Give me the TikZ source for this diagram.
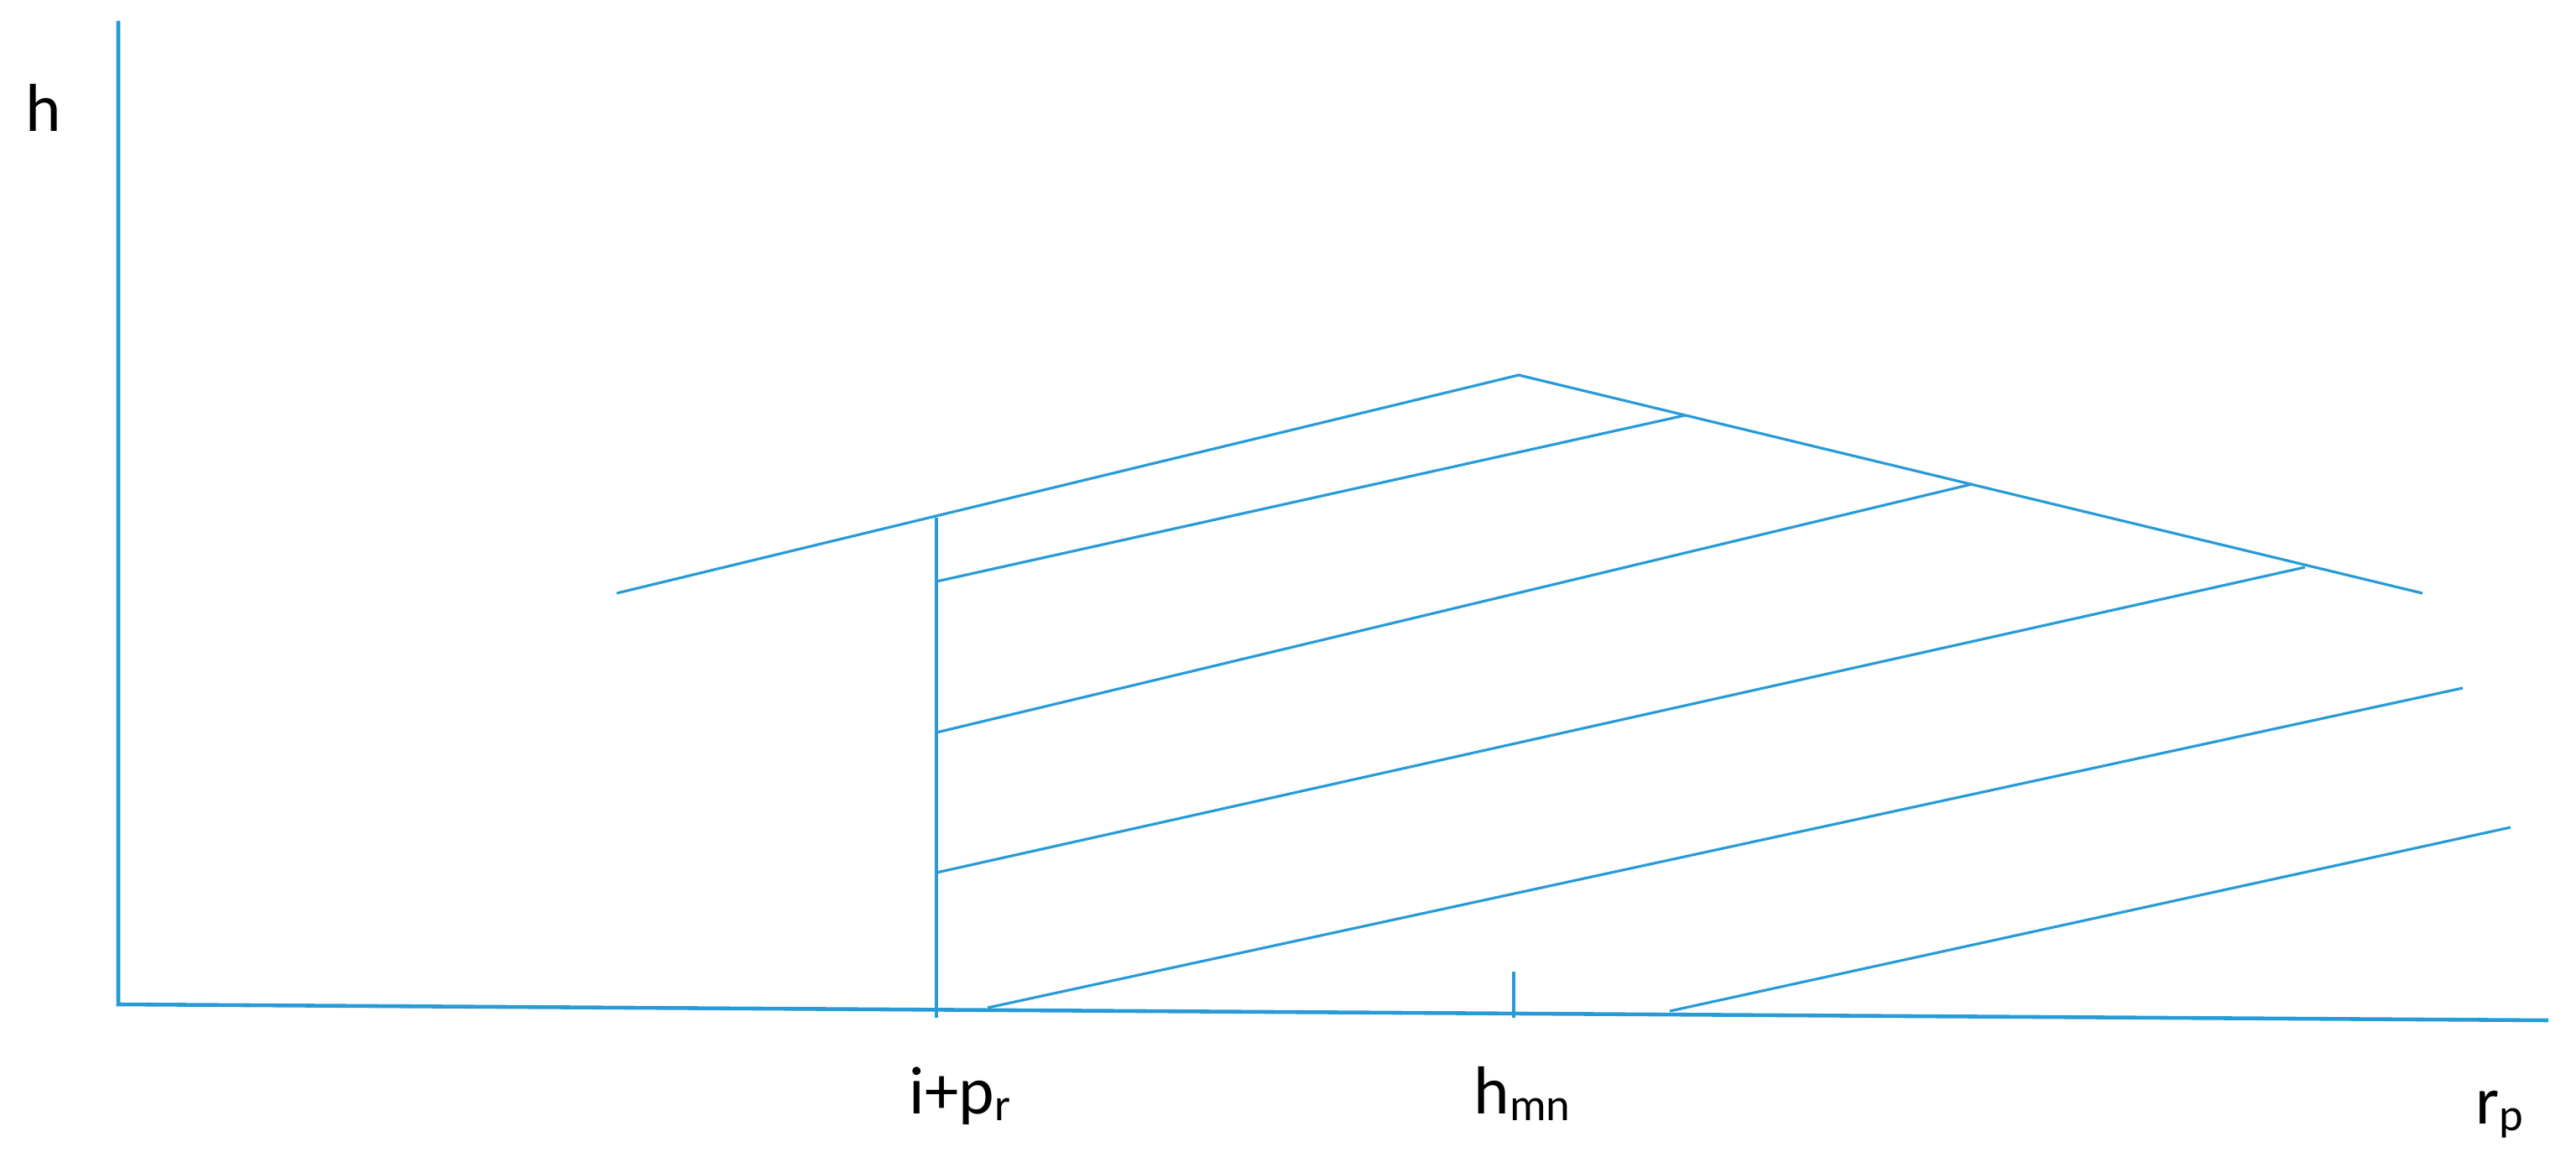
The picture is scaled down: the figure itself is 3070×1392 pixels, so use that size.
\documentclass[tikz,border=0pt]{standalone}
\usepackage{fontspec}
\setmainfont{Carlito}
\definecolor{lineblue}{RGB}{40,155,215}
\newcommand\mysub[1]{\raisebox{-2.3pt}{\fontsize{15.5}{15.5}\selectfont #1}}
\begin{document}
\begin{tikzpicture}[x=0.01cm,y=-0.01cm,
  axisline/.style={draw=lineblue,line width=1.3pt},
  tickline/.style={draw=lineblue,line width=1.1pt},
  rayline/.style={draw=lineblue,line width=0.9pt},
  lbl/.style={anchor=base west,inner sep=0pt,font=\fontsize{23}{23}\selectfont}]
\useasboundingbox (0,0) rectangle (3070,1392);
% axes
\coordinate (ytop) at (141,25);
\coordinate (origin) at (141,1197);
\coordinate (xend) at (3037,1216);
\draw[axisline] (ytop) -- (origin) -- (xend);
% ticks
\coordinate (ipTop) at (1116,617);
\coordinate (ipBot) at (1116,1213);
\draw[tickline] (ipTop) -- (ipBot);
\coordinate (hmTop) at (1804,1158);
\coordinate (hmBot) at (1804,1213);
\draw[tickline] (hmTop) -- (hmBot);
% roof
\coordinate (roofL) at (735,707);
\coordinate (peak) at (1810,447);
\coordinate (roofR) at (2887,707);
\draw[rayline] (roofL) -- (peak) -- (roofR);
% parallel rays
\coordinate (a1) at (1116,693);  \coordinate (b1) at (2008,495);
\coordinate (a2) at (1116,873);  \coordinate (b2) at (2350,577);
\coordinate (a3) at (1116,1040); \coordinate (b3) at (2747,676);
\coordinate (a4) at (1177,1201); \coordinate (b4) at (2935,820);
\coordinate (a5) at (1990,1205); \coordinate (b5) at (2992,986);
\draw[rayline] (a1) -- (b1);
\draw[rayline] (a2) -- (b2);
\draw[rayline] (a3) -- (b3);
\draw[rayline] (a4) -- (b4);
\draw[rayline] (a5) -- (b5);
% labels
\node[lbl] (hlab) at (30,157) {h};
\node[lbl] (iplab) at (1083,1327) {i+p\mysub{r}};
\node[lbl] (hmnlab) at (1756,1327) {h\mysub{mn}};
\node[lbl] (rplab) at (2950,1339) {r\mysub{p}};
\end{tikzpicture}
\end{document}
